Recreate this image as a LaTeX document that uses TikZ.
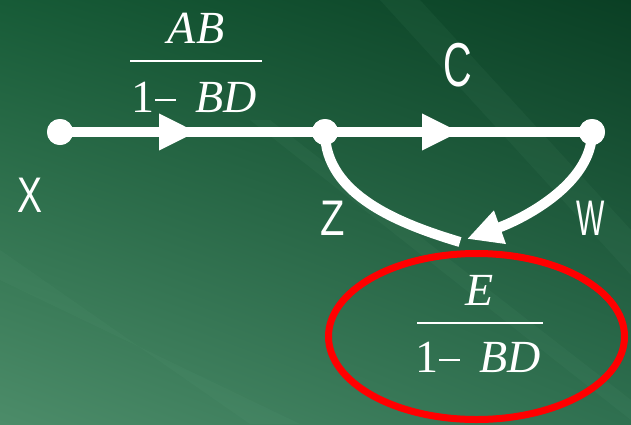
\documentclass[tikz,border=0pt]{standalone}
\usepackage{graphicx}
\usepackage{fontspec}
\setmainfont{Liberation Serif}
\newfontfamily\labelfont{Liberation Sans}
\usetikzlibrary{arrows.meta,decorations.markings,shadings}
\definecolor{bgUL}{HTML}{175B37}
\definecolor{bgUR}{HTML}{0A3F24}
\definecolor{bgLL}{HTML}{4C8C69}
\definecolor{bgLR}{HTML}{2F7050}
\definecolor{streak}{HTML}{6FB08A}
\newcommand\narrowlab[2]{\scalebox{#1}[1]{#2}}
\newcommand\onemin{1\hspace{1pt}\rule[11pt]{21pt}{2.4pt}\hspace{19pt}}
\begin{document}
\begin{tikzpicture}[x=1pt,y=-1pt,
  dot/.style={circle, fill=white, minimum size=26pt, inner sep=0pt},
  edgeline/.style={line width=10pt, white},
  midarrow/.style={postaction={decorate}, decoration={markings,
      mark=at position #1 with {\arrow{Triangle[length=38pt,width=34pt]}}}},
  lbl/.style={text=white, inner sep=0pt, font=\labelfont\fontsize{50}{50}\selectfont},
  bigl/.style={text=white, inner sep=0pt, font=\labelfont\fontsize{62}{62}\selectfont},
  frac/.style={text=white, inner sep=0pt, anchor=base, font=\fontsize{46}{46}\selectfont},
  fracline/.style={white, line width=2.4pt},
  highlight/.style={red, line width=7pt}]
\useasboundingbox (0,0) rectangle (631,424);
\shade[upper left=bgUL, upper right=bgUR, lower left=bgLL, lower right=bgLR] (0,0) rectangle (631,424);
% faint streaks
\begin{scope}[opacity=0.07]
\fill[streak] (380,0) -- (420,0) -- (631,230) -- (631,275) -- cycle;
\fill[streak] (250,120) -- (270,120) -- (631,400) -- (631,420) -- cycle;
\fill[streak] (0,250) -- (0,280) -- (300,424) -- (250,424) -- cycle;
\end{scope}

% nodes
\node[dot] (X) at (60,132) {};
\node[dot] (Z) at (325,132) {};
\node[dot] (W) at (592,132) {};
\coordinate (M) at (460,242);

% edges
\draw[edgeline, midarrow=0.517] (X.center) -- (Z.center);
\draw[edgeline, midarrow=0.506] (Z.center) -- (W.center);
\draw[edgeline] (Z.center) .. controls (325,195) and (400,224) .. (M);
\draw[edgeline, -{Triangle[length=35pt,width=33pt]}] (W.center) .. controls (592,185) and (520,220) .. (467,239);

% redraw dots on top
\node[dot] at (X) {};
\node[dot] at (Z) {};
\node[dot] at (W) {};

% labels
\node[lbl] (lx) at (30,195) {\narrowlab{0.75}{X}};
\node[lbl] (lz) at (333,218.5) {\narrowlab{0.8}{Z}};
\node[lbl] (lw) at (591,218.5) {\narrowlab{0.6}{W}};
\node[bigl] (lc) at (458,65) {\narrowlab{0.64}{C}};

% fraction AB/(1-BD)
\node[frac] (n1) at (196,43) {\textit{AB}};
\draw[fracline] (130,61) -- (262,61);
\node[frac] (d1) at (194,112) {\onemin\textit{BD}};

% fraction E/(1-BD)
\node[frac] (n2) at (480,305) {\textit{E}};
\draw[fracline] (417,323) -- (543,323);
\node[frac] (d2) at (478,372) {\onemin\textit{BD}};

% highlight
\draw[highlight] (476.5,336.5) ellipse [x radius=148pt, y radius=83pt];
\end{tikzpicture}
\end{document}
